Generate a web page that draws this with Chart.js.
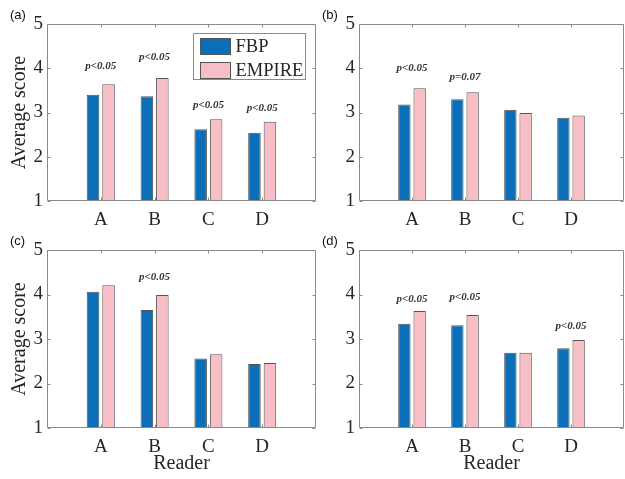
<!DOCTYPE html>
<html>
<head>
<meta charset="utf-8">
<script src="https://cdn.jsdelivr.net/npm/chart.js@4.4.1/dist/chart.umd.min.js"></script>
<style>
html,body{margin:0;padding:0;background:#fff;}
#wrap{position:relative;width:625px;height:479px;overflow:hidden;background:#fff;}
canvas{position:absolute;}
</style>
</head>
<body>
<div id="wrap">
  <canvas id="pa" width="318" height="232" style="left:0;top:0"></canvas>
  <canvas id="pb" width="307" height="232" style="left:318px;top:0"></canvas>
  <canvas id="pc" width="318" height="247" style="left:0;top:232px"></canvas>
  <canvas id="pd" width="307" height="247" style="left:318px;top:232px"></canvas>
</div>
<script>
/* ===== DATA ===== */

const readers = ["A", "B", "C", "D"];
const seriesNames = ["FBP", "EMPIRE"];
const yTicks = [1, 2, 3, 4, 5];

// (a)
const fbpA = [3.40, 3.37, 2.62, 2.54];
const empireA = [3.64, 3.78, 2.85, 2.79];
const pTextA = ["p<0.05", "p<0.05", "p<0.05", "p<0.05"];
const pLevelA = [4.05, 4.25, 3.17, 3.10];

// (b)
const fbpB = [3.18, 3.30, 3.06, 2.88];
const empireB = [3.55, 3.46, 2.99, 2.93];
const pTextB = ["p<0.05", "p=0.07", "", ""];
const pLevelB = [4.00, 3.80, null, null];

// (c)
const fbpC = [4.06, 3.65, 2.56, 2.44];
const empireC = [4.21, 3.99, 2.66, 2.46];
const pTextC = ["", "p<0.05", "", ""];
const pLevelC = [null, 4.39, null, null];

// (d)
const fbpD = [3.34, 3.31, 2.69, 2.79];
const empireD = [3.63, 3.54, 2.69, 2.98];
const pTextD = ["p<0.05", "p<0.05", "", "p<0.05"];
const pLevelD = [3.89, 3.94, null, 3.29];

/* ===== STYLE ===== */

const BLUE = "#0a6fb8";
const PINK = "#f8bec6";
const EDGE = "#555555";
const AXIS = "#8a8a8a";
const TEXT = "#262626";
const SERIF = "'Liberation Serif', 'Times New Roman', serif";
const SANS = "'Liberation Sans', Arial, sans-serif";

/* ===== PLUGINS ===== */

const boxPlugin = {
  id: "box",
  afterDatasetsDraw(chart) {
    const {ctx, chartArea: a, scales: {x, y}} = chart;
    const L = Math.round(a.left) + 0.5;
    const R = Math.round(a.right) - 0.5;
    const T = Math.round(a.top) + 0.5;
    const B = Math.round(a.bottom) - 0.5;
    ctx.save();
    ctx.strokeStyle = AXIS;
    ctx.lineWidth = 1;
    ctx.beginPath();
    ctx.rect(L, T, R - L, B - T);
    yTicks.forEach(v => {
      const py = Math.round(y.getPixelForValue(v)) + 0.5;
      ctx.moveTo(L, py); ctx.lineTo(L + 3, py);
      ctx.moveTo(R, py); ctx.lineTo(R - 3, py);
    });
    readers.forEach((r, i) => {
      const px = Math.round(x.getPixelForValue(i + 1)) + 0.5;
      ctx.moveTo(px, B); ctx.lineTo(px, B - 3);
      ctx.moveTo(px, T); ctx.lineTo(px, T + 3);
    });
    ctx.stroke();

    // p-value notes
    const o = chart.options.plugins.box;
    ctx.fillStyle = "#333";
    ctx.font = "italic bold 11px " + SERIF;
    ctx.textAlign = "center";
    ctx.textBaseline = "middle";
    o.pText.forEach((t, i) => {
      if (!t) return;
      ctx.fillText(t, x.getPixelForValue(i + 1), y.getPixelForValue(o.pLevel[i]));
    });

    // panel tag
    ctx.fillStyle = "#111";
    ctx.font = "13px " + SANS;
    ctx.textAlign = "left";
    ctx.fillText(o.tag, a.left - 37, a.top - 9);

    // legend
    if (o.legend) {
      const bw = 112, bh = 46;
      const bx = Math.round(a.right) - 11 - bw + 0.5;
      const by = Math.round(a.top) + 9 + 0.5;
      ctx.fillStyle = "#fff";
      ctx.fillRect(bx, by, bw, bh);
      ctx.strokeStyle = AXIS;
      ctx.strokeRect(bx, by, bw, bh);
      chart.data.datasets.forEach((ds, k) => {
        const sy = by + 5 + k * 24;
        ctx.fillStyle = ds.backgroundColor;
        ctx.fillRect(bx + 7, sy, 30, 16);
        ctx.strokeStyle = EDGE;
        ctx.strokeRect(bx + 7, sy, 30, 16);
        ctx.fillStyle = TEXT;
        ctx.font = "18.5px " + SERIF;
        ctx.fillText(ds.label, bx + 42, sy + 9);
      });
    }
    ctx.restore();
  }
};

/* ===== PANELS ===== */

function makePanel(id, tag, fbp, empire, pText, pLevel, lay) {
  const ctx = document.getElementById(id).getContext("2d");
  return new Chart(ctx, {
    type: "bar",
    data: {
      labels: ["", ...readers, ""],
      datasets: [
        {
          label: seriesNames[0],
          data: [null, ...fbp, null],
          backgroundColor: BLUE,
          borderColor: EDGE,
          borderWidth: 1,
          base: 1
        },
        {
          label: seriesNames[1],
          data: [null, ...empire, null],
          backgroundColor: PINK,
          borderColor: EDGE,
          borderWidth: 1,
          base: 1
        }
      ]
    },
    options: {
      responsive: false,
      animation: false,
      devicePixelRatio: 1,
      categoryPercentage: 0.576,
      barPercentage: 0.81,
      layout: {padding: {top: lay.top, right: lay.right, left: 0, bottom: 0}},
      plugins: {
        legend: {display: false},
        tooltip: {enabled: false},
        box: {tag, pText, pLevel, legend: lay.legend}
      },
      scales: {
        x: {
          offset: false,
          grid: {display: false, drawTicks: false},
          border: {display: false},
          ticks: {
            color: TEXT,
            font: {family: SERIF, size: 19},
            padding: 8,
            maxRotation: 0,
            autoSkip: false
          },
          title: {
            display: lay.xTitle,
            text: "Reader",
            color: TEXT,
            font: {family: SERIF, size: 20},
            padding: {top: 0, bottom: 3}
          },
          afterFit(s) {
            s.height = lay.bottom;
            s.paddingLeft = 0;
            s.paddingRight = 0;
          }
        },
        y: {
          min: 1,
          max: 5,
          grid: {display: false, drawTicks: false},
          border: {display: false},
          ticks: {
            stepSize: 1,
            color: TEXT,
            font: {family: SERIF, size: 19},
            padding: 4
          },
          title: {
            display: lay.yTitle,
            text: "Average score",
            color: TEXT,
            font: {family: SERIF, size: 20},
            padding: {top: 8, bottom: 0}
          },
          afterFit(s) { s.width = lay.left; }
        }
      }
    },
    plugins: [boxPlugin]
  });
}

makePanel("pa", "(a)", fbpA, empireA, pTextA, pLevelA,
  {left: 47, top: 24, right: 2, bottom: 31, xTitle: false, yTitle: true, legend: true});
makePanel("pb", "(b)", fbpB, empireB, pTextB, pLevelB,
  {left: 41, top: 24, right: 1, bottom: 31, xTitle: false, yTitle: false, legend: false});
makePanel("pc", "(c)", fbpC, empireC, pTextC, pLevelC,
  {left: 47, top: 18, right: 2, bottom: 51, xTitle: true, yTitle: true, legend: false});
makePanel("pd", "(d)", fbpD, empireD, pTextD, pLevelD,
  {left: 41, top: 18, right: 1, bottom: 51, xTitle: true, yTitle: false, legend: false});
</script>
</body>
</html>
